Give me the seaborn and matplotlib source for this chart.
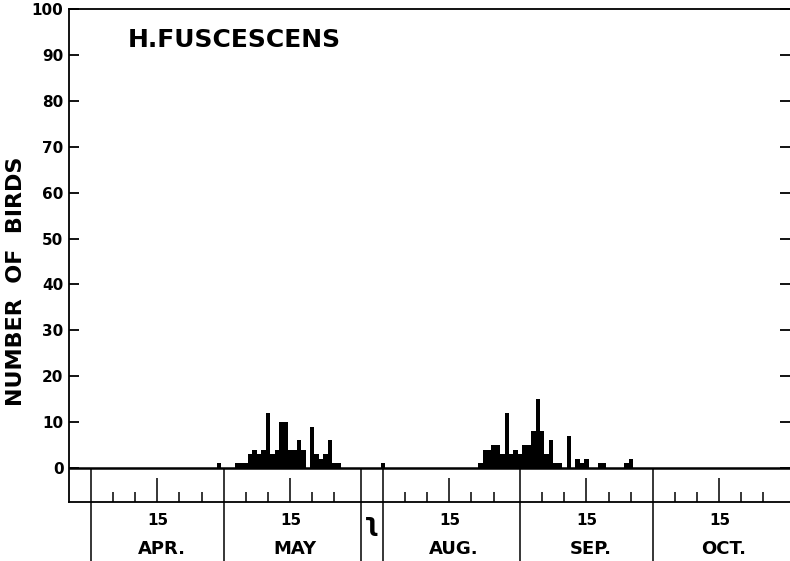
import numpy as np
import pandas as pd
import seaborn as sns
import matplotlib.pyplot as plt

# daily counts (day of month -> number of birds)
apr_days = [29]
apr_counts = [1]
may_days = list(range(3, 27))
may_counts = [1, 1, 1, 3, 4, 3, 4, 12, 3, 4, 10, 10, 4, 4, 6, 4, 0, 9, 3, 2, 3, 6, 1, 1]
jul_days = [31]
jul_counts = [1]
aug_days = list(range(22, 32))
aug_counts = [1, 4, 4, 5, 5, 3, 12, 3, 4, 3]
sep_days = list(range(1, 26))
sep_counts = [5, 5, 8, 15, 8, 3, 6, 1, 1, 0, 7, 0, 2, 1, 2, 0, 0, 1, 1, 0, 0, 0, 0, 1, 2]

month_names = ["APR.", "MAY", "AUG.", "SEP.", "OCT."]
month_keys = ["APR", "MAY", "AUG", "SEP", "OCT"]
yticks = list(range(0, 101, 10))

# where day 1 of each month sits on the squeezed time axis (Jun/Jul cut out)
offset = {"APR": 0, "MAY": 30, "JUL": 35, "AUG": 66, "SEP": 97, "OCT": 127}

rows = []
for m, days, counts in [("APR", apr_days, apr_counts), ("MAY", may_days, may_counts),
                        ("JUL", jul_days, jul_counts), ("AUG", aug_days, aug_counts),
                        ("SEP", sep_days, sep_counts)]:
    for d, c in zip(days, counts):
        rows.append({"day": offset[m] + d - 1, "birds": c})
data = pd.DataFrame(rows)

sns.set_style("white")
plt.rcParams['font.family'] = ['DejaVu Sans']
plt.rcParams['text.color'] = 'black'
plt.rcParams['axes.labelcolor'] = 'black'

fig = plt.figure(figsize=(7.9, 5.61), dpi=100)
ax = fig.add_axes([69 / 790, 1 - 502 / 561, 721 / 790, 493 / 561])

sns.histplot(data=data, x="day", weights="birds", binwidth=1, binrange=(-5, 158),
             element="step", fill=True, color="black", alpha=1, linewidth=0, ax=ax)

ymin = -7.4
ax.set_xlim(-5.47, 157.5)
ax.set_ylim(ymin, 100)
ax.set_yticks(yticks)
ax.set_xticks([])
ax.set_xlabel("")
ax.set_ylabel("NUMBER  OF  BIRDS", fontsize=16, fontweight="bold")
ax.yaxis.set_label_coords(-0.059, 0.448)
for lab in ax.get_yticklabels():
    lab.set_fontweight("bold")
ax.tick_params(axis="y", left=True, right=True, direction="in", length=7,
               width=1.3, labelsize=11, pad=4, colors="black")

for s in ["left", "top", "bottom"]:
    ax.spines[s].set_color("black")
    ax.spines[s].set_linewidth(1.3)
ax.spines["right"].set_visible(False)

# zero line
ax.axhline(0, color="black", lw=1.8)

# month boundaries run down through the label boxes
month_edges = [offset[m] - 0.5 for m in month_keys] + [offset["MAY"] + 31 - 0.5]
ax.vlines(month_edges, -21, 0, color="black", lw=1.1, clip_on=False)

# day ticks every 5 days in the strip under the zero line
for m, name in zip(month_keys, month_names):
    start = offset[m] - 0.5
    for k in [5, 10, 20, 25]:
        ax.vlines(start + k, ymin, ymin + 2.2, color="black", lw=1.1)
    ax.vlines(start + 15, ymin, ymin + 5.2, color="black", lw=1.1)
    ax.text(start + 15.2, -11.4, "15", ha="center", va="center",
            fontsize=11, fontweight="bold", clip_on=False)
    ax.text(start + 16, -17.6, name, ha="center", va="center",
            fontsize=13, fontweight="bold", clip_on=False)

# break mark for the missing summer months
ax.text(offset["JUL"] + 27.8, -12.3, "ʅ", ha="center", va="center",
        fontsize=18, fontweight="bold", clip_on=False)

ax.text((128 - 69) / 721, (502 - 40) / 493, "H.FUSCESCENS", transform=ax.transAxes,
        ha="left", va="center", fontsize=18, fontweight="bold")

plt.savefig("out.png", dpi=100)
